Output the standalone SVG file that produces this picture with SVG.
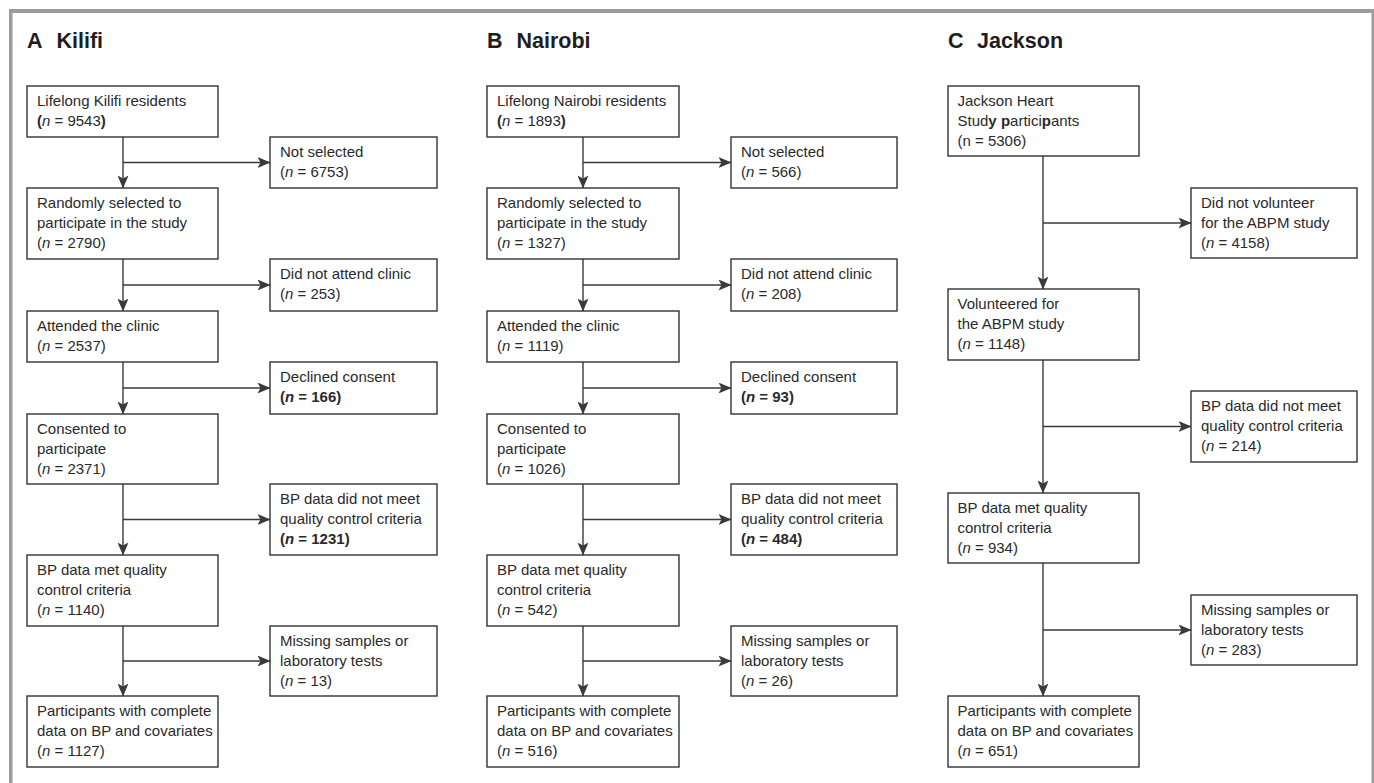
<svg xmlns="http://www.w3.org/2000/svg" width="1374" height="783" viewBox="0 0 1374 783">
<style>
.frame{fill:#9c9c9c}
.box{fill:#fff;stroke:#333;stroke-width:1.4}
.t{font-family:"Liberation Sans",Arial,Helvetica,sans-serif;font-size:15px;fill:#2a2a2a}
.title{font-family:"Liberation Sans",Arial,Helvetica,sans-serif;font-size:21.5px;font-weight:bold;fill:#1e1e1e}
.conn{stroke:#3a3a3a;stroke-width:1.4;fill:none}
.i{font-style:italic}
.b{font-weight:bold}
</style>
<defs>
<marker id="arr" markerUnits="userSpaceOnUse" markerWidth="13" markerHeight="11" refX="12.5" refY="5.5" orient="auto">
<path d="M0,0 L13,5.5 L0,11 L3,5.5 Z" fill="#3a3a3a"/>
</marker>
</defs>
<rect width="1374" height="783" fill="#fff"/>
<g id="frame">
<rect class="frame" x="9" y="9" width="1365" height="4"/>
<rect class="frame" x="9" y="9" width="3.5" height="774"/>
<rect class="frame" x="1371.5" y="9" width="2.5" height="774"/>
</g>
<g id="titles">
<text class="title" y="47.5"><tspan x="27">A</tspan><tspan x="56.5">Kilifi</tspan></text>
<text class="title" y="47.5"><tspan x="487">B</tspan><tspan x="516.5">Nairobi</tspan></text>
<text class="title" y="47.5"><tspan x="948">C</tspan><tspan x="977">Jackson</tspan></text>
</g>
<g id="connectors">
<path class="conn" marker-end="url(#arr)" d="M123,137 V188"/>
<path class="conn" marker-end="url(#arr)" d="M123,162.5 H270"/>
<path class="conn" marker-end="url(#arr)" d="M123,259 V311"/>
<path class="conn" marker-end="url(#arr)" d="M123,285 H270"/>
<path class="conn" marker-end="url(#arr)" d="M123,362 V414"/>
<path class="conn" marker-end="url(#arr)" d="M123,388 H270"/>
<path class="conn" marker-end="url(#arr)" d="M123,484 V555"/>
<path class="conn" marker-end="url(#arr)" d="M123,519.5 H270"/>
<path class="conn" marker-end="url(#arr)" d="M123,626 V696"/>
<path class="conn" marker-end="url(#arr)" d="M123,661 H270"/>
<path class="conn" marker-end="url(#arr)" d="M583,137 V188"/>
<path class="conn" marker-end="url(#arr)" d="M583,162.5 H731"/>
<path class="conn" marker-end="url(#arr)" d="M583,259 V311"/>
<path class="conn" marker-end="url(#arr)" d="M583,285 H731"/>
<path class="conn" marker-end="url(#arr)" d="M583,362 V414"/>
<path class="conn" marker-end="url(#arr)" d="M583,388 H731"/>
<path class="conn" marker-end="url(#arr)" d="M583,484 V555"/>
<path class="conn" marker-end="url(#arr)" d="M583,519.5 H731"/>
<path class="conn" marker-end="url(#arr)" d="M583,626 V696"/>
<path class="conn" marker-end="url(#arr)" d="M583,661 H731"/>
<path class="conn" marker-end="url(#arr)" d="M1043,156 V289"/>
<path class="conn" marker-end="url(#arr)" d="M1043,223 H1191"/>
<path class="conn" marker-end="url(#arr)" d="M1043,360 V493"/>
<path class="conn" marker-end="url(#arr)" d="M1043,426.5 H1191"/>
<path class="conn" marker-end="url(#arr)" d="M1043,563 V696"/>
<path class="conn" marker-end="url(#arr)" d="M1043,630 H1191"/>
</g>
<!-- Panel A -->
<g id="A1"><rect class="box" x="27" y="86" width="191" height="51"/>
<text class="t" x="37" y="105.5">Lifelong Kilifi residents</text>
<text class="t" x="37" y="125.5"><tspan class="b">(</tspan><tspan class="i">n</tspan> = 9543<tspan class="b">)</tspan></text></g>
<g id="A_S1"><rect class="box" x="270" y="137" width="167" height="51"/>
<text class="t" x="280" y="156.5">Not selected</text>
<text class="t" x="280" y="176.5">(<tspan class="i">n</tspan> = 6753)</text></g>
<g id="A2"><rect class="box" x="27" y="188" width="191" height="71"/>
<text class="t" x="37" y="207.5">Randomly selected to</text>
<text class="t" x="37" y="227.5">participate in the study</text>
<text class="t" x="37" y="247.5">(<tspan class="i">n</tspan> = 2790)</text></g>
<g id="A_S2"><rect class="box" x="270" y="259" width="167" height="52"/>
<text class="t" x="280" y="278.5">Did not attend clinic</text>
<text class="t" x="280" y="298.5">(<tspan class="i">n</tspan> = 253)</text></g>
<g id="A3"><rect class="box" x="27" y="311" width="191" height="51"/>
<text class="t" x="37" y="330.5">Attended the clinic</text>
<text class="t" x="37" y="350.5">(<tspan class="i">n</tspan> = 2537)</text></g>
<g id="A_S3"><rect class="box" x="270" y="362" width="167" height="52"/>
<text class="t" x="280" y="381.5">Declined consent</text>
<text class="t b" x="280" y="401.5">(<tspan class="i">n</tspan> = 166)</text></g>
<g id="A4"><rect class="box" x="27" y="414" width="191" height="70"/>
<text class="t" x="37" y="433.5">Consented to</text>
<text class="t" x="37" y="453.5">participate</text>
<text class="t" x="37" y="473.5">(<tspan class="i">n</tspan> = 2371)</text></g>
<g id="A_S4"><rect class="box" x="270" y="484" width="167" height="71"/>
<text class="t" x="280" y="503.5">BP data did not meet</text>
<text class="t" x="280" y="523.5">quality control criteria</text>
<text class="t b" x="280" y="543.5">(<tspan class="i">n</tspan> = 1231)</text></g>
<g id="A5"><rect class="box" x="27" y="555" width="191" height="71"/>
<text class="t" x="37" y="574.5">BP data met quality</text>
<text class="t" x="37" y="594.5">control criteria</text>
<text class="t" x="37" y="614.5">(<tspan class="i">n</tspan> = 1140)</text></g>
<g id="A_S5"><rect class="box" x="270" y="626" width="167" height="70"/>
<text class="t" x="280" y="645.5">Missing samples or</text>
<text class="t" x="280" y="665.5">laboratory tests</text>
<text class="t" x="280" y="685.5">(<tspan class="i">n</tspan> = 13)</text></g>
<g id="A6"><rect class="box" x="27" y="696" width="191" height="71"/>
<text class="t" x="37" y="715.5">Participants with complete</text>
<text class="t" x="37" y="735.5">data on BP and covariates</text>
<text class="t" x="37" y="755.5">(<tspan class="i">n</tspan> = 1127)</text></g>
<!-- Panel B -->
<g id="B1"><rect class="box" x="487" y="86" width="192" height="51"/>
<text class="t" x="497" y="105.5">Lifelong Nairobi residents</text>
<text class="t" x="497" y="125.5"><tspan class="b">(</tspan><tspan class="i">n</tspan> = 1893<tspan class="b">)</tspan></text></g>
<g id="B_S1"><rect class="box" x="731" y="137" width="166" height="51"/>
<text class="t" x="741" y="156.5">Not selected</text>
<text class="t" x="741" y="176.5">(<tspan class="i">n</tspan> = 566)</text></g>
<g id="B2"><rect class="box" x="487" y="188" width="192" height="71"/>
<text class="t" x="497" y="207.5">Randomly selected to</text>
<text class="t" x="497" y="227.5">participate in the study</text>
<text class="t" x="497" y="247.5">(<tspan class="i">n</tspan> = 1327)</text></g>
<g id="B_S2"><rect class="box" x="731" y="259" width="166" height="52"/>
<text class="t" x="741" y="278.5">Did not attend clinic</text>
<text class="t" x="741" y="298.5">(<tspan class="i">n</tspan> = 208)</text></g>
<g id="B3"><rect class="box" x="487" y="311" width="192" height="51"/>
<text class="t" x="497" y="330.5">Attended the clinic</text>
<text class="t" x="497" y="350.5">(<tspan class="i">n</tspan> = 1119)</text></g>
<g id="B_S3"><rect class="box" x="731" y="362" width="166" height="52"/>
<text class="t" x="741" y="381.5">Declined consent</text>
<text class="t b" x="741" y="401.5">(<tspan class="i">n</tspan> = 93)</text></g>
<g id="B4"><rect class="box" x="487" y="414" width="192" height="70"/>
<text class="t" x="497" y="433.5">Consented to</text>
<text class="t" x="497" y="453.5">participate</text>
<text class="t" x="497" y="473.5">(<tspan class="i">n</tspan> = 1026)</text></g>
<g id="B_S4"><rect class="box" x="731" y="484" width="166" height="71"/>
<text class="t" x="741" y="503.5">BP data did not meet</text>
<text class="t" x="741" y="523.5">quality control criteria</text>
<text class="t b" x="741" y="543.5">(<tspan class="i">n</tspan> = 484)</text></g>
<g id="B5"><rect class="box" x="487" y="555" width="192" height="71"/>
<text class="t" x="497" y="574.5">BP data met quality</text>
<text class="t" x="497" y="594.5">control criteria</text>
<text class="t" x="497" y="614.5">(<tspan class="i">n</tspan> = 542)</text></g>
<g id="B_S5"><rect class="box" x="731" y="626" width="166" height="70"/>
<text class="t" x="741" y="645.5">Missing samples or</text>
<text class="t" x="741" y="665.5">laboratory tests</text>
<text class="t" x="741" y="685.5">(<tspan class="i">n</tspan> = 26)</text></g>
<g id="B6"><rect class="box" x="487" y="696" width="192" height="71"/>
<text class="t" x="497" y="715.5">Participants with complete</text>
<text class="t" x="497" y="735.5">data on BP and covariates</text>
<text class="t" x="497" y="755.5">(<tspan class="i">n</tspan> = 516)</text></g>
<!-- Panel C -->
<g id="C1"><rect class="box" x="948" y="86" width="191" height="70"/>
<text class="t" x="957.5" y="105.5">Jackson Heart</text>
<text class="t" x="957.5" y="125.5">Stud<tspan class="b">y</tspan> <tspan class="b">p</tspan>artici<tspan class="b">p</tspan>ants</text>
<text class="t" x="957.5" y="145.5">(n = 5306)</text></g>
<g id="C_S1"><rect class="box" x="1191" y="188" width="166" height="70"/>
<text class="t" x="1201" y="207.5">Did not volunteer</text>
<text class="t" x="1201" y="227.5">for the ABPM study</text>
<text class="t" x="1201" y="247.5">(<tspan class="i">n</tspan> = 4158)</text></g>
<g id="C2"><rect class="box" x="948" y="289" width="191" height="71"/>
<text class="t" x="957.5" y="308.5">Volunteered for</text>
<text class="t" x="957.5" y="328.5">the ABPM study</text>
<text class="t" x="957.5" y="348.5">(<tspan class="i">n</tspan> = 1148)</text></g>
<g id="C_S2"><rect class="box" x="1191" y="391" width="166" height="71"/>
<text class="t" x="1201" y="410.5">BP data did not meet</text>
<text class="t" x="1201" y="430.5">quality control criteria</text>
<text class="t" x="1201" y="450.5">(<tspan class="i">n</tspan> = 214)</text></g>
<g id="C3"><rect class="box" x="948" y="493" width="191" height="70"/>
<text class="t" x="957.5" y="512.5">BP data met quality</text>
<text class="t" x="957.5" y="532.5">control criteria</text>
<text class="t" x="957.5" y="552.5">(<tspan class="i">n</tspan> = 934)</text></g>
<g id="C_S3"><rect class="box" x="1191" y="595" width="166" height="70"/>
<text class="t" x="1201" y="614.5">Missing samples or</text>
<text class="t" x="1201" y="634.5">laboratory tests</text>
<text class="t" x="1201" y="654.5">(<tspan class="i">n</tspan> = 283)</text></g>
<g id="C4"><rect class="box" x="948" y="696" width="191" height="71"/>
<text class="t" x="957.5" y="715.5">Participants with complete</text>
<text class="t" x="957.5" y="735.5">data on BP and covariates</text>
<text class="t" x="957.5" y="755.5">(<tspan class="i">n</tspan> = 651)</text></g>
</svg>
